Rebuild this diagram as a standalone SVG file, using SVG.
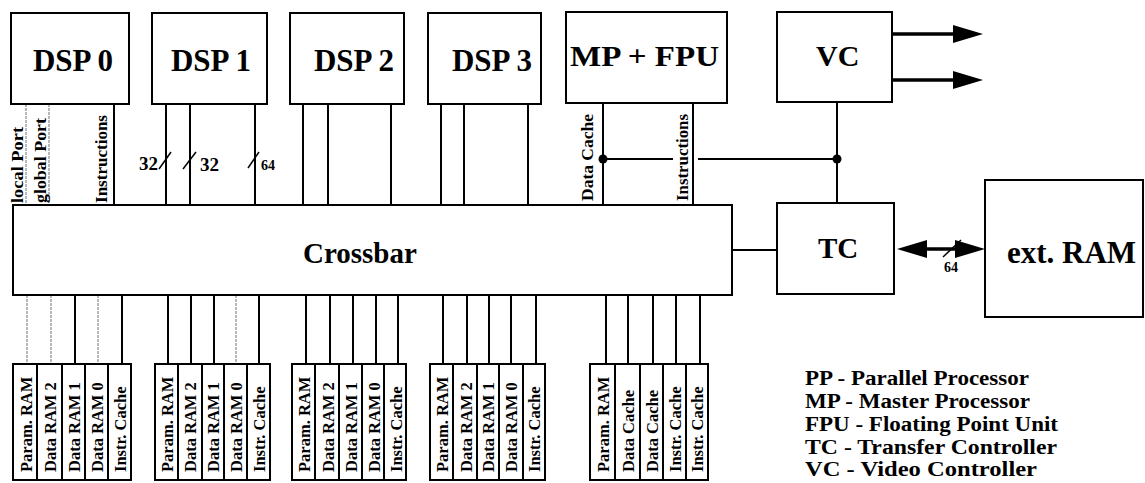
<svg xmlns="http://www.w3.org/2000/svg" width="1145" height="483" viewBox="0 0 1145 483">
<style>
.box{fill:#fff;stroke:#000;stroke-width:2}
.ln{stroke:#000;stroke-width:2;fill:none}
.faint{stroke:#888;stroke-width:1.2;stroke-dasharray:3 1;fill:none}
.thick{stroke:#000;stroke-width:3.5;fill:none}
.big{font-family:"Liberation Serif","Times New Roman",serif;font-size:31px;font-weight:bold;fill:#000}
.lbl{font-family:"Liberation Serif","Times New Roman",serif;font-size:16.5px;font-weight:bold;fill:#000}
.num{font-family:"Liberation Serif","Times New Roman",serif;font-size:19px;font-weight:bold;fill:#000}
.leg{font-family:"Liberation Serif","Times New Roman",serif;font-size:20px;font-weight:bold;fill:#000}
</style>
<defs>
<marker id="ah" viewBox="0 0 30 18" refX="22" refY="9" markerWidth="30" markerHeight="18" markerUnits="userSpaceOnUse" orient="auto-start-reverse">
<path d="M0,0 L30,9 L0,18 z" fill="#000"/>
</marker>
</defs>

<g id="connectors">
<line class="faint" x1="26" y1="104" x2="26" y2="205"/>
<line class="faint" x1="49" y1="104" x2="49" y2="205"/>
<line class="ln" x1="114" y1="104" x2="114" y2="205"/>
<line class="ln" x1="166" y1="104" x2="166" y2="205"/>
<line class="ln" x1="190" y1="104" x2="190" y2="205"/>
<line class="ln" x1="255" y1="104" x2="255" y2="205"/>
<line class="ln" x1="159" y1="169" x2="171" y2="152" style="stroke-width:1.5"/>
<line class="ln" x1="183" y1="169" x2="196" y2="152" style="stroke-width:1.5"/>
<line class="ln" x1="248" y1="168" x2="259" y2="152" style="stroke-width:1.5"/>
<line class="ln" x1="303" y1="104" x2="303" y2="205"/>
<line class="ln" x1="328" y1="104" x2="328" y2="205"/>
<line class="ln" x1="391" y1="104" x2="391" y2="205"/>
<line class="ln" x1="441" y1="104" x2="441" y2="205"/>
<line class="ln" x1="464" y1="104" x2="464" y2="205"/>
<line class="ln" x1="528" y1="104" x2="528" y2="205"/>
<line class="ln" x1="603" y1="103" x2="603" y2="205"/>
<line class="ln" x1="693" y1="103" x2="693" y2="205"/>
<line class="ln" x1="603" y1="159" x2="673" y2="159"/>
<line class="ln" x1="698" y1="159" x2="837" y2="159"/>
<circle cx="603" cy="159" r="4.5" fill="#000"/>
<circle cx="837" cy="159" r="4.5" fill="#000"/>
<line class="ln" x1="837" y1="102" x2="837" y2="203"/>
<line class="thick" x1="892" y1="34" x2="975" y2="34" marker-end="url(#ah)"/>
<line class="thick" x1="892" y1="80" x2="975" y2="80" marker-end="url(#ah)"/>
<line class="ln" x1="732" y1="250" x2="777" y2="250"/>
<line class="thick" x1="905" y1="249" x2="977" y2="249" marker-start="url(#ah)" marker-end="url(#ah)"/>
<line class="ln" x1="943" y1="257" x2="961" y2="240" style="stroke-width:1.5"/>
<line class="faint" x1="27" y1="295" x2="27" y2="364"/>
<line class="faint" x1="51" y1="295" x2="51" y2="364"/>
<line class="ln" x1="75" y1="295" x2="75" y2="364"/>
<line class="faint" x1="98" y1="295" x2="98" y2="364"/>
<line class="ln" x1="122" y1="295" x2="122" y2="364"/>
<line class="ln" x1="168" y1="295" x2="168" y2="364"/>
<line class="ln" x1="191" y1="295" x2="191" y2="364"/>
<line class="ln" x1="214" y1="295" x2="214" y2="364"/>
<line class="faint" x1="236" y1="295" x2="236" y2="364"/>
<line class="ln" x1="259" y1="295" x2="259" y2="364"/>
<line class="ln" x1="306" y1="295" x2="306" y2="364"/>
<line class="ln" x1="330" y1="295" x2="330" y2="364"/>
<line class="ln" x1="353" y1="295" x2="353" y2="364"/>
<line class="ln" x1="376" y1="295" x2="376" y2="364"/>
<line class="ln" x1="398" y1="295" x2="398" y2="364"/>
<line class="ln" x1="443" y1="295" x2="443" y2="364"/>
<line class="ln" x1="467" y1="295" x2="467" y2="364"/>
<line class="ln" x1="489" y1="295" x2="489" y2="364"/>
<line class="ln" x1="511" y1="295" x2="511" y2="364"/>
<line class="ln" x1="536" y1="295" x2="536" y2="364"/>
<line class="ln" x1="606" y1="295" x2="606" y2="364"/>
<line class="ln" x1="628" y1="295" x2="628" y2="364"/>
<line class="ln" x1="653" y1="295" x2="653" y2="364"/>
<line class="ln" x1="676" y1="295" x2="676" y2="364"/>
<line class="ln" x1="700" y1="295" x2="700" y2="364"/>
</g>

<g id="port-labels">
<text class="lbl" transform="translate(23,203) rotate(-90)" textLength="76" lengthAdjust="spacingAndGlyphs">local Port</text>
<text class="lbl" transform="translate(46,203) rotate(-90)" textLength="85" lengthAdjust="spacingAndGlyphs">global Port</text>
<text class="lbl" transform="translate(107,203) rotate(-90)" textLength="88" lengthAdjust="spacingAndGlyphs">Instructions</text>
<text class="lbl" transform="translate(593,201) rotate(-90)" textLength="87" lengthAdjust="spacingAndGlyphs">Data Cache</text>
<text class="lbl" transform="translate(688,201) rotate(-90)" textLength="87" lengthAdjust="spacingAndGlyphs">Instructions</text>
<text class="num" x="139" y="170">32</text>
<text class="num" x="200" y="171">32</text>
<text class="num" x="261" y="170" style="font-size:14px">64</text>
<text class="num" x="944" y="272" style="font-size:14px">64</text>
</g>

<g id="dsp0"><rect class="box" x="11" y="13" width="118" height="91"/><text class="big" x="73" y="71" text-anchor="middle">DSP 0</text></g>
<g id="dsp1"><rect class="box" x="152" y="13" width="115" height="91"/><text class="big" x="211" y="71" text-anchor="middle">DSP 1</text></g>
<g id="dsp2"><rect class="box" x="290" y="13" width="114" height="91"/><text class="big" x="354" y="71" text-anchor="middle">DSP 2</text></g>
<g id="dsp3"><rect class="box" x="428" y="13" width="113" height="91"/><text class="big" x="492" y="71" text-anchor="middle">DSP 3</text></g>
<g id="mpfpu"><rect class="box" x="566" y="12" width="161" height="91"/><text class="big" x="570" y="66" style="font-size:30px" textLength="149" lengthAdjust="spacingAndGlyphs">MP + FPU</text></g>
<g id="vc"><rect class="box" x="777" y="12" width="115" height="90"/><text class="big" x="816" y="66" style="font-size:30px">VC</text></g>
<g id="crossbar"><rect class="box" x="13" y="205" width="719" height="90"/><text class="big" x="303" y="263" style="font-size:29px">Crossbar</text></g>
<g id="tc"><rect class="box" x="777" y="203" width="117" height="91"/><text class="big" x="818" y="258" style="font-size:29px">TC</text></g>
<g id="extram"><rect class="box" x="985" y="180" width="158" height="137"/><text class="big" x="1007" y="263">ext. RAM</text></g>

<g id="bank0">
<rect class="box" x="13" y="364" width="24" height="116"/><rect class="box" x="37" y="364" width="25" height="116"/><rect class="box" x="62" y="364" width="23" height="116"/><rect class="box" x="85" y="364" width="23" height="116"/><rect class="box" x="108" y="364" width="23" height="116"/>
<text class="lbl" transform="translate(32,472) rotate(-90)">Param. RAM</text>
<text class="lbl" transform="translate(56,472) rotate(-90)">Data RAM 2</text>
<text class="lbl" transform="translate(80,472) rotate(-90)">Data RAM 1</text>
<text class="lbl" transform="translate(103,472) rotate(-90)">Data RAM 0</text>
<text class="lbl" transform="translate(126,472) rotate(-90)">Instr. Cache</text>
</g>
<g id="bank1">
<rect class="box" x="155" y="364" width="23" height="116"/><rect class="box" x="178" y="364" width="24" height="116"/><rect class="box" x="202" y="364" width="22" height="116"/><rect class="box" x="224" y="364" width="23" height="116"/><rect class="box" x="247" y="364" width="23" height="116"/>
<text class="lbl" transform="translate(173,472) rotate(-90)">Param. RAM</text>
<text class="lbl" transform="translate(196,472) rotate(-90)">Data RAM 2</text>
<text class="lbl" transform="translate(219,472) rotate(-90)">Data RAM 1</text>
<text class="lbl" transform="translate(242,472) rotate(-90)">Data RAM 0</text>
<text class="lbl" transform="translate(265,472) rotate(-90)">Instr. Cache</text>
</g>
<g id="bank2">
<rect class="box" x="292" y="364" width="23" height="116"/><rect class="box" x="315" y="364" width="24" height="116"/><rect class="box" x="339" y="364" width="23" height="116"/><rect class="box" x="362" y="364" width="22" height="116"/><rect class="box" x="384" y="364" width="22" height="116"/>
<text class="lbl" transform="translate(310,472) rotate(-90)">Param. RAM</text>
<text class="lbl" transform="translate(334,472) rotate(-90)">Data RAM 2</text>
<text class="lbl" transform="translate(357,472) rotate(-90)">Data RAM 1</text>
<text class="lbl" transform="translate(380,472) rotate(-90)">Data RAM 0</text>
<text class="lbl" transform="translate(402,472) rotate(-90)">Instr. Cache</text>
</g>
<g id="bank3">
<rect class="box" x="430" y="364" width="23" height="116"/><rect class="box" x="453" y="364" width="24" height="116"/><rect class="box" x="477" y="364" width="22" height="116"/><rect class="box" x="499" y="364" width="24" height="116"/><rect class="box" x="523" y="364" width="22" height="116"/>
<text class="lbl" transform="translate(448,472) rotate(-90)">Param. RAM</text>
<text class="lbl" transform="translate(472,472) rotate(-90)">Data RAM 2</text>
<text class="lbl" transform="translate(494,472) rotate(-90)">Data RAM 1</text>
<text class="lbl" transform="translate(517,472) rotate(-90)">Data RAM 0</text>
<text class="lbl" transform="translate(540,472) rotate(-90)">Instr. Cache</text>
</g>
<g id="bank4">
<rect class="box" x="590" y="364" width="25" height="116"/><rect class="box" x="615" y="364" width="25" height="116"/><rect class="box" x="640" y="364" width="23" height="116"/><rect class="box" x="663" y="364" width="23" height="116"/><rect class="box" x="686" y="364" width="22" height="116"/>
<text class="lbl" transform="translate(609,472) rotate(-90)">Param. RAM</text>
<text class="lbl" transform="translate(634,472) rotate(-90)">Data Cache</text>
<text class="lbl" transform="translate(658,472) rotate(-90)">Data Cache</text>
<text class="lbl" transform="translate(681,472) rotate(-90)">Instr. Cache</text>
<text class="lbl" transform="translate(703,472) rotate(-90)">Instr. Cache</text>
</g>

<g id="legend">
<text class="leg" x="805" y="385" textLength="224" lengthAdjust="spacingAndGlyphs">PP - Parallel Processor</text>
<text class="leg" x="805" y="408" textLength="225" lengthAdjust="spacingAndGlyphs">MP - Master Processor</text>
<text class="leg" x="805" y="431" textLength="253" lengthAdjust="spacingAndGlyphs">FPU - Floating Point Unit</text>
<text class="leg" x="805" y="454" textLength="252" lengthAdjust="spacingAndGlyphs">TC - Transfer Controller</text>
<text class="leg" x="805" y="476" textLength="232" lengthAdjust="spacingAndGlyphs">VC - Video Controller</text>
</g>
</svg>
